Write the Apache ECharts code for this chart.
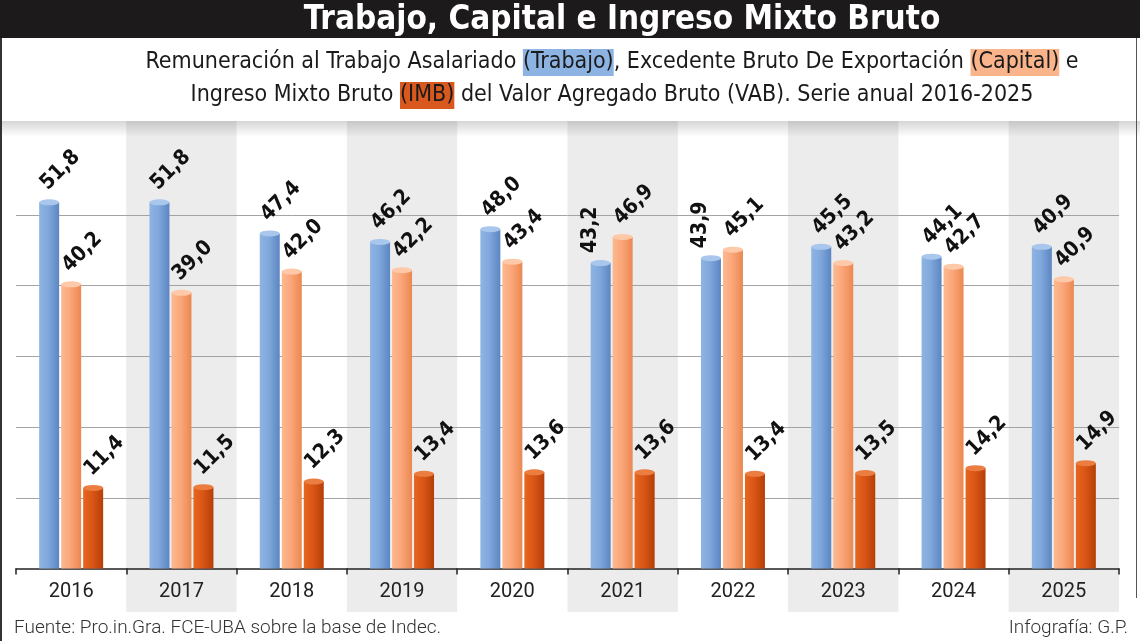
<!DOCTYPE html>
<html>
<head>
<meta charset="utf-8">
<script src="https://cdn.jsdelivr.net/npm/echarts@6/dist/echarts.min.js"></script>
<style>
html,body{margin:0;padding:0;background:#fff;}
#c{width:1140px;height:641px;}
</style>
</head>
<body>
<div id="c"></div>
<script>
const years = ['2016','2017','2018','2019','2020','2021','2022','2023','2024','2025'];
const trabajo = [51.8, 51.8, 47.4, 46.2, 48.0, 43.2, 43.9, 45.5, 44.1, 45.5];
const trabajoLabels = ['51,8','51,8','47,4','46,2','48,0','43,2','43,9','45,5','44,1','40,9'];
const trabajoLabelRotate = [45, 45, 45, 45, 45, 90, 90, 45, 45, 45];
const capital = [40.2, 39.0, 42.0, 42.2, 43.4, 46.9, 45.1, 43.2, 42.7, 40.9];
const imb = [11.4, 11.5, 12.3, 13.4, 13.6, 13.6, 13.4, 13.5, 14.2, 14.9];
const gridValues = [10, 20, 30, 40, 50];

const BAND = '#ececec';
const NARROW = '"DejaVu Sans Condensed","Liberation Sans Narrow",sans-serif';

const chart = echarts.init(document.getElementById('c'), null, {renderer: 'canvas'});

function grad(c0, c1, c2) {
  return new echarts.graphic.LinearGradient(0, 0, 1, 0, [
    {offset: 0, color: c0}, {offset: 0.45, color: c1}, {offset: 1, color: c2}
  ]);
}
const fmt = v => v.toFixed(1).replace('.', ',');

function items(arr, rot) {
  return arr.map((v, i) => {
    const r = rot ? rot[i] : 45;
    return {
      value: v,
      label: r === 90 ? {rotate: 90, offset: [0, 0], distance: 10} : {}
    };
  });
}

const labelBase = {
  show: true,
  position: 'top',
  rotate: 45,
  align: 'left',
  verticalAlign: 'bottom',
  distance: 6,
  offset: [3, 0],
  fontFamily: NARROW,
  fontWeight: 'bold',
  fontSize: 21,
  color: '#111'
};

function barSeries(name, arr, g, labelFn, rot) {
  return {
    name: name, type: 'bar', data: items(arr, rot),
    barWidth: 20, barGap: '10%', z: 2,
    itemStyle: {color: g},
    label: Object.assign({}, labelBase, {formatter: labelFn}),
    emphasis: {disabled: true}
  };
}
function topSeries(arr, color) {
  return {
    type: 'pictorialBar', data: arr, barWidth: 20, barGap: '10%',
    symbol: 'circle', symbolSize: [20, 6], symbolPosition: 'end',
    symbolOffset: [0, '-50%'], z: 3, silent: true,
    itemStyle: {color: color}
  };
}

const option = {
  animation: false,
  backgroundColor: '#ffffff',
  grid: {left: 16, right: 21, top: 121, bottom: 29},
  xAxis: {
    type: 'category', data: years,
    axisLine: {onZero: true, lineStyle: {color: '#222', width: 1.5}},
    axisTick: {show: true, length: 6, lineStyle: {color: '#222', width: 1.5}},
    axisLabel: {fontSize: 20, color: '#222', margin: -30, fontFamily: 'Roboto'},
    splitArea: {show: true, areaStyle: {color: ['rgba(255,255,255,0)', BAND]}}
  },
  yAxis: {type: 'value', min: -6.15, max: 63.3, show: false},
  series: [
    barSeries('Trabajo', trabajo, grad('#8fb4e3', '#80a8dc', '#5c86c2'), p => trabajoLabels[p.dataIndex], trabajoLabelRotate),
    barSeries('Capital', capital, grad('#fdb990', '#fba67a', '#ea8850'), p => fmt(p.value)),
    Object.assign(barSeries('IMB', imb, grad('#e6661f', '#da5616', '#b53f08'), p => fmt(p.value)), {
      markLine: {
        z: 1, silent: true, symbol: 'none', label: {show: false},
        lineStyle: {color: '#a3a3a3', width: 1, type: 'solid'},
        emphasis: {disabled: true},
        data: gridValues.map(v => ({yAxis: v}))
      }
    }),
    topSeries(trabajo, '#a9c6ec'),
    topSeries(capital, '#fec9a8'),
    topSeries(imb, '#ec7d40')
  ],
  graphic: [
    {type: 'rect', left: 0, top: 0, shape: {width: 1140, height: 38}, style: {fill: '#1c1a1a'}, z: 10},
    {type: 'text', x: 622, y: 20, z: 11, style: {
      text: 'Trabajo, Capital e Ingreso Mixto Bruto', fill: '#fff',
      font: 'bold 33px ' + NARROW, align: 'center', verticalAlign: 'middle'}},
    {type: 'text', x: 612, y: 79, z: 11, style: {
      text: 'Remuneración al Trabajo Asalariado {b|(Trabajo)}, Excedente Bruto De Exportación {c|(Capital)} e\nIngreso Mixto Bruto {d|(IMB)} del Valor Agregado Bruto (VAB). Serie anual 2016-2025',
      fill: '#1a1a1a', fontFamily: NARROW, fontSize: 23, lineHeight: 33,
      align: 'center', verticalAlign: 'middle',
      rich: {
        b: {backgroundColor: '#8db3e2', fontFamily: NARROW, fontSize: 23, lineHeight: 33, color: '#1a1a1a', padding: [2, 0, 2, 0]},
        c: {backgroundColor: '#fab48c', fontFamily: NARROW, fontSize: 23, lineHeight: 33, color: '#1a1a1a', padding: [2, 0, 2, 0]},
        d: {backgroundColor: '#d9581e', fontFamily: NARROW, fontSize: 23, lineHeight: 33, color: '#fde6d8', padding: [2, 0, 2, 0]}
      }}},
    {type: 'rect', left: 0, top: 121, shape: {width: 1140, height: 16}, z: 5, silent: true,
      style: {fill: new echarts.graphic.LinearGradient(0, 0, 0, 1, [
        {offset: 0, color: 'rgba(0,0,0,0.16)'}, {offset: 1, color: 'rgba(0,0,0,0)'}])}},
    {type: 'rect', left: 0, top: 38, shape: {width: 2, height: 603}, style: {fill: '#333'}, z: 10},
    {type: 'rect', left: 1136, top: 38, shape: {width: 1, height: 560}, style: {fill: '#555'}, z: 10},
    {type: 'text', left: 14, top: 619, z: 11, style: {
      text: 'Fuente: Pro.in.Gra. FCE-UBA sobre la base de Indec.', fill: '#333',
      font: '300 19px Roboto'}},
    {type: 'text', right: 12, top: 619, z: 11, style: {
      text: 'Infografía: G.P.', fill: '#333', font: '300 19px Roboto'}}
  ]
};
chart.setOption(option);
</script>
</body>
</html>
